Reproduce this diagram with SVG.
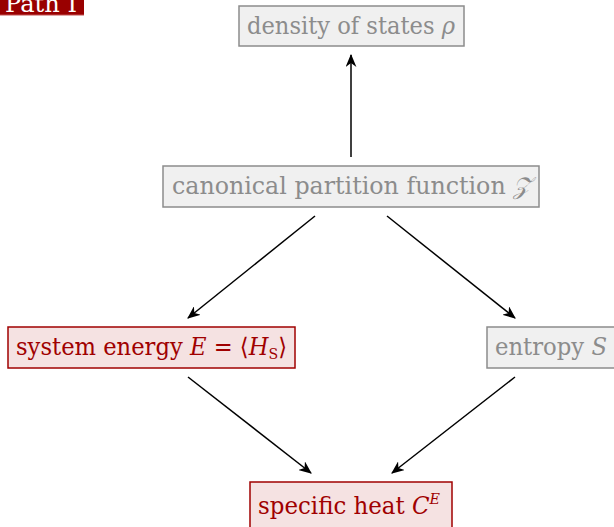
<svg xmlns="http://www.w3.org/2000/svg" width="614" height="527" viewBox="0 0 614 527">
<style>
.t{font-family:"DejaVu Serif","Liberation Serif",serif;font-size:24px}
.g rect{fill:#f0f0f0;stroke:#8c8c8c;stroke-width:1.5}
.g text{fill:#8c8c8c}
.r rect{fill:#f5e2e2;stroke:#a00000;stroke-width:1.5}
.r text{fill:#a00000}
.c line{stroke:#000;stroke-width:1.5;marker-end:url(#ah)}
</style>
<defs>
<marker id="ah" viewBox="0 0 12 10" refX="11" refY="5" markerWidth="13" markerHeight="11" markerUnits="userSpaceOnUse" orient="auto">
<path d="M0,0 L12,5 L0,10 L3.5,5 Z" fill="#000"/>
</marker>
</defs>
<rect width="614" height="527" fill="#fff"/>
<g id="label">
<rect x="0" y="-2" width="84" height="17" fill="#990000"/>
<line x1="0" y1="15" x2="84" y2="15" stroke="#c05050" stroke-width="1"/>
<text class="t" x="5" y="12" fill="#fff" textLength="72" lengthAdjust="spacingAndGlyphs">Path I</text>
</g>
<g class="c" id="connectors">
<line x1="351" y1="157" x2="351" y2="55"/>
<line x1="315" y1="216" x2="188" y2="318"/>
<line x1="387" y1="216" x2="515" y2="318"/>
<line x1="188" y1="377" x2="311" y2="473"/>
<line x1="515" y1="377" x2="392" y2="473"/>
</g>
<g id="dos" class="g t">
<rect x="239" y="6" width="225" height="40"/>
<text x="247" y="34" textLength="208" lengthAdjust="spacingAndGlyphs">density of states <tspan font-style="italic">ρ</tspan></text>
</g>
<g id="partition" class="g t">
<rect x="163" y="166" width="376" height="41"/>
<text x="172" y="194" textLength="359" lengthAdjust="spacingAndGlyphs">canonical partition function <tspan font-style="italic">𝒵</tspan></text>
</g>
<g id="energy" class="r t">
<rect x="8" y="327" width="287" height="41"/>
<text x="16" y="355" textLength="271" lengthAdjust="spacingAndGlyphs">system energy <tspan font-style="italic">E</tspan> = ⟨<tspan font-style="italic">H</tspan><tspan font-size="15" dy="4">S</tspan><tspan dy="-4">⟩</tspan></text>
</g>
<g id="entropy" class="g t">
<rect x="487" y="327" width="130" height="41"/>
<text x="495" y="355" textLength="112" lengthAdjust="spacingAndGlyphs">entropy <tspan font-style="italic">S</tspan></text>
</g>
<g id="heat" class="r t">
<rect x="250" y="482" width="202" height="50"/>
<text x="258" y="514" textLength="182" lengthAdjust="spacingAndGlyphs">specific heat <tspan font-style="italic">C</tspan><tspan font-style="italic" font-size="15" dy="-10">E</tspan></text>
</g>
</svg>
